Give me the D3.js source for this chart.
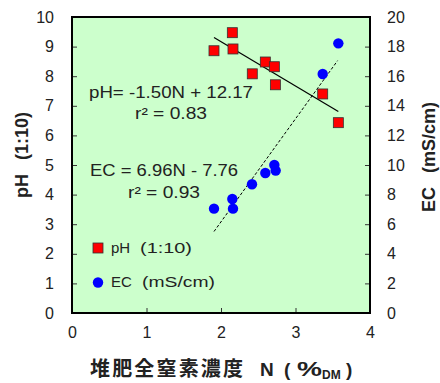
<!DOCTYPE html>
<html><head><meta charset="utf-8">
<script src="https://cdn.jsdelivr.net/npm/d3@7"></script>
<style>body{margin:0;background:#fff}svg{display:block}</style>
</head><body><svg id="c" width="440" height="383"></svg>
<script>
const nValues  = [1.906, 2.152, 2.161, 2.42, 2.595, 2.716, 2.73, 3.365, 3.575];
const phValues = [8.86, 9.47, 8.92, 8.08, 8.48, 8.32, 7.71, 7.40, 6.43];
const ecN      = [3.575, 3.365, 2.716, 2.734, 2.595, 2.416, 2.152, 2.161, 1.906];
const ecValues = [18.22, 16.15, 10.0, 9.62, 9.46, 8.7, 7.7, 7.05, 7.05];
const xTicks = [0, 1, 2, 3, 4];
const phTicks = [0,1,2,3,4,5,6,7,8,9,10];
const ecTicks = [0,2,4,6,8,10,12,14,16,18,20];
const phFit = {slope: -1.50, intercept: 12.17, r2: "0.83"};
const ecFit = {slope: 6.96, intercept: -7.76, r2: "0.93"};

const svg = d3.select("#c");
const L = 72, R = 370, T = 17, B = 313;
const x = d3.scaleLinear().domain([0,4]).range([L,R]);
const yL = d3.scaleLinear().domain([0,10]).range([B,T]);
const yR = d3.scaleLinear().domain([0,20]).range([B,T]);
const font = "'Liberation Sans', Arial, sans-serif";
const jp = "'Noto Sans CJK JP', sans-serif";

svg.append("rect").attr("x",L).attr("y",T).attr("width",R-L).attr("height",B-T).attr("fill","#ccffcc");

// axes
const ax = svg.append("g").attr("transform",`translate(0,${B})`).call(d3.axisBottom(x).tickValues(xTicks).tickSize(-5).tickPadding(14).tickFormat(d3.format("d")));
const ayl = svg.append("g").attr("transform",`translate(${L},0)`).call(d3.axisLeft(yL).tickValues(phTicks).tickSize(-5).tickPadding(18));
const ayr = svg.append("g").attr("transform",`translate(${R},0)`).call(d3.axisRight(yR).tickValues(ecTicks).tickSize(-5).tickPadding(17));
[ax,ayl,ayr].forEach(g=>{
  g.select(".domain").remove();
  g.selectAll("line").attr("stroke","#333").attr("stroke-width",1);
  g.selectAll("text").attr("font-family",font).attr("font-size",16).attr("fill","#222");
});
svg.append("rect").attr("x",L).attr("y",T).attr("width",R-L).attr("height",B-T).attr("fill","none").attr("stroke","#000").attr("stroke-width",2);

// regression lines
const ext = d3.extent(nValues);
const phLine = ext.map(n=>[x(n), yL(phFit.slope*n+phFit.intercept)]);
svg.append("path").attr("d", d3.line()(phLine)).attr("stroke","#000").attr("stroke-width",1.2).attr("fill","none");
const ecExt = [ext[0], 3.565];
const ecLine = ecExt.map(n=>[x(n), yR(ecFit.slope*n+ecFit.intercept)]);
svg.append("path").attr("d", d3.line()(ecLine)).attr("stroke","#000").attr("stroke-width",1).attr("stroke-dasharray","3,2").attr("fill","none");

// points
svg.append("g").selectAll("rect").data(nValues.map((n,i)=>[n,phValues[i]])).join("rect")
  .attr("x",d=>x(d[0])-5).attr("y",d=>yL(d[1])-5).attr("width",10).attr("height",10)
  .attr("fill","#ff0000").attr("stroke","#333").attr("stroke-width",0.8);
svg.append("g").selectAll("circle").data(ecN.map((n,i)=>[n,ecValues[i]])).join("circle")
  .attr("cx",d=>x(d[0])).attr("cy",d=>yR(d[1])).attr("r",5.2)
  .attr("fill","#0000ff");

// equations
const tx = (X,Y,W,t)=>svg.append("text").attr("x",X).attr("y",Y).attr("font-family",font).attr("font-size",16)
  .attr("textLength",W).attr("lengthAdjust","spacingAndGlyphs").attr("fill","#222").text(t);
tx(89,98,164,`pH= ${phFit.slope.toFixed(2)}N + ${phFit.intercept.toFixed(2)}`);
tx(135,119,72,`r² = ${phFit.r2}`);
tx(90,176,148,`EC = ${ecFit.slope.toFixed(2)}N - ${Math.abs(ecFit.intercept).toFixed(2)}`);
tx(128,198,72,`r² = ${ecFit.r2}`);

// legend
svg.append("rect").attr("x",93).attr("y",243).attr("width",10).attr("height",10).attr("fill","#ff0000").attr("stroke","#333").attr("stroke-width",0.8);
const lg1 = svg.append("text").attr("y",253).attr("font-size",15).attr("fill","#222").attr("font-family",font);
lg1.append("tspan").attr("x",111).text("pH");
lg1.append("tspan").attr("x",140).attr("textLength",52).attr("lengthAdjust","spacingAndGlyphs").text("(1:10)");
svg.append("circle").attr("cx",98).attr("cy",282.5).attr("r",5.2).attr("fill","#0000ff");
const lg2 = svg.append("text").attr("y",287).attr("font-size",15).attr("fill","#222").attr("font-family",font);
lg2.append("tspan").attr("x",111).text("EC");
lg2.append("tspan").attr("x",142).attr("textLength",73).attr("lengthAdjust","spacingAndGlyphs").text("(mS/cm)");

// axis titles
const xt = svg.append("text").attr("y",376).attr("font-weight","bold").attr("fill","#222");
xt.append("tspan").attr("x",90).attr("font-family",jp).attr("font-size",20).attr("textLength",153).attr("lengthAdjust","spacing").text("堆肥全窒素濃度");
xt.append("tspan").attr("x",260).attr("font-family",font).attr("font-size",19).text("N");
xt.append("tspan").attr("x",284).attr("font-family",font).attr("font-size",19).text("(");
xt.append("tspan").attr("x",297).attr("font-family",font).attr("font-size",20).attr("textLength",25).attr("lengthAdjust","spacingAndGlyphs").text("%");
xt.append("tspan").attr("x",322).attr("font-family",font).attr("font-size",12).attr("dy",3).text("DM");
xt.append("tspan").attr("x",346).attr("font-family",font).attr("font-size",19).attr("dy",-3).text(")");

const yt = svg.append("text").attr("transform","translate(28,155) rotate(-90)").attr("text-anchor","middle")
  .attr("font-family",font).attr("font-weight","bold").attr("font-size",18).attr("fill","#222");
yt.append("tspan").text("pH");
yt.append("tspan").attr("dx",14).text("(1:10)");
const yr = svg.append("text").attr("transform","translate(435,157) rotate(-90)").attr("text-anchor","middle")
  .attr("font-family",font).attr("font-weight","bold").attr("font-size",18).attr("fill","#222");
yr.append("tspan").text("EC");
yr.append("tspan").attr("dx",14).text("(mS/cm)");
</script></body></html>
